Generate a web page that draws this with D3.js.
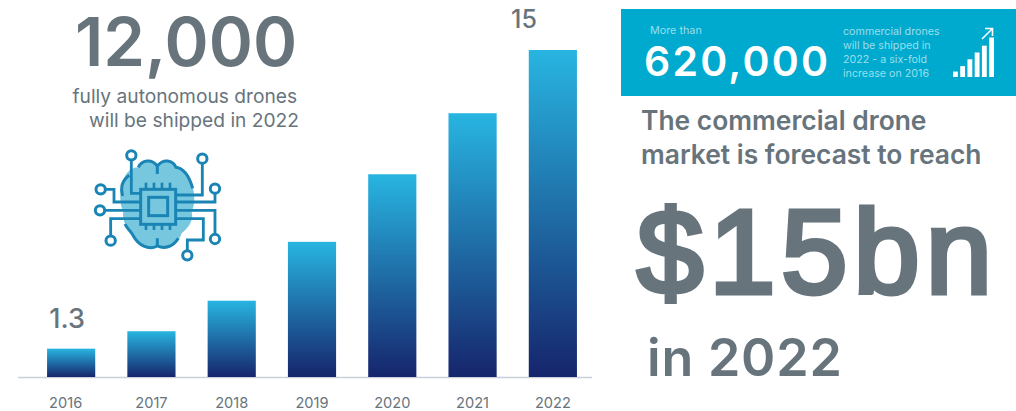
<!DOCTYPE html>
<html>
<head>
<meta charset="utf-8">
<script src="https://cdn.jsdelivr.net/npm/d3@7"></script>
<style>
html,body{margin:0;padding:0;background:#fff;overflow:hidden}
svg{display:block}
text{font-family:Inter,"Noto Sans",sans-serif}
</style>
</head>
<body>
<svg id="chart" width="1016" height="411"></svg>
<script>
// Commercial drone market forecast, $bn per year
const years = ["2016","2017","2018","2019","2020","2021","2022"];
const values = [1.3,2.1,3.5,6.2,9.3,12.1,15];
const valueLabels = {"2016":"1.3","2022":"15"};
const bannerBars = [2,4,6.5,9,11.5,14.5];
const bannerNote = ["commercial drones","will be shipped in","2022 - a six-fold","increase on 2016"];

const grey = "#67747c";
const svg = d3.select("#chart");

const grad = svg.append("defs").append("linearGradient")
  .attr("id","barFill").attr("x1",0).attr("y1",0).attr("x2",0).attr("y2",1);
grad.append("stop").attr("offset","0%").attr("stop-color","#28b5e1");
grad.append("stop").attr("offset","100%").attr("stop-color","#16256c");

// Bar chart
const x = d3.scaleBand().domain(years).range([31,593]).paddingInner(0.4).paddingOuter(0.2);
const y = d3.scaleLinear().domain([0,15]).range([377,50]);

svg.append("line").attr("x1",18).attr("x2",592).attr("y1",377.5).attr("y2",377.5)
  .attr("stroke","#c9d0da").attr("stroke-width",1.5);

svg.selectAll("rect.bar").data(years).join("rect").attr("class","bar")
  .attr("x",d=>x(d)).attr("width",x.bandwidth())
  .attr("y",(d,i)=>y(values[i])).attr("height",(d,i)=>y(0)-y(values[i]))
  .attr("fill","url(#barFill)");

const axis = d3.axisBottom(x).tickSize(0).tickPadding(0);
const axisG = svg.append("g").attr("transform","translate(0,408)").call(axis);
axisG.select(".domain").remove();
axisG.selectAll("text").attr("fill",grey).attr("font-size",14.6).attr("font-family","Inter,sans-serif")
  .attr("dy",0).attr("y",0).attr("dx",d=>d==="2016"?-5.5:0);

svg.selectAll("text.val").data(years.filter(d=>valueLabels[d])).join("text").attr("class","val")
  .attr("x",d=>d==="2022"?524:67)
  .attr("y",d=>d==="2022"?28:328)
  .attr("text-anchor","middle").attr("fill",grey)
  .attr("font-size",d=>d==="2022"?25:27).attr("font-weight",500)
  .text(d=>valueLabels[d]);

// Headline above the smaller bars
function label(tx,ty,str,size,opts={}){
  return svg.append("text").attr("x",tx).attr("y",ty).text(str)
    .attr("font-size",size).attr("fill",opts.fill||grey)
    .attr("font-weight",opts.weight||400)
    .attr("text-anchor",opts.anchor||"start")
    .attr("letter-spacing",opts.spacing||null)
    .style("font-family",opts.family||null);
}
label(186,66,"12,000",67,{anchor:"middle",weight:600});
label(72.5,103,"fully autonomous drones",19.2,{weight:400});
label(299,126.5,"will be shipped in 2022",19.2,{anchor:"end"});

// Brain and circuit icon
const icon = svg.append("g").attr("transform","translate(70,130) scale(0.3333)");
const blue = "#1a84b5";
icon.append("path")
  .attr("d","M262,110 C245,85 215,90 205,112 C180,112 160,135 155,170 C148,195 150,225 160,245 C155,275 172,295 190,310 C200,340 225,362 262,348 C300,362 325,340 335,310 C352,295 372,275 365,245 C375,225 375,195 368,170 C362,135 340,112 318,112 C308,90 280,85 262,110 Z")
  .attr("fill","#77c8df");
icon.append("path")
  .attr("d","M262,132 L262,108 C245,85 215,90 205,112 M262,108 C280,85 308,90 318,112 C340,115 358,140 368,175 M158,198 C150,170 158,150 178,136 M165,282 C172,298 185,305 190,318 C205,345 235,362 262,348 L262,325 M262,348 C285,358 310,350 325,325")
  .attr("fill","none").attr("stroke",blue).attr("stroke-width",9);
const wires = [
  "M184,90 L184,190 L212,190","M397,100 L397,195 L315,195",
  "M105,178 L132,178 L132,216 L212,216","M435,190 L435,216 L315,216",
  "M105,241 L212,241","M435,315 L435,241 L315,241",
  "M122,320 L122,266 L212,266","M352,362 L352,330 L400,330 L400,266 L315,266"];
icon.selectAll("path.wire").data(wires).join("path").attr("class","wire")
  .attr("d",d=>d).attr("fill","none").attr("stroke",blue).attr("stroke-width",8.5);
icon.append("rect").attr("x",212).attr("y",178).attr("width",105).attr("height",105)
  .attr("fill","#77c8df").attr("stroke",blue).attr("stroke-width",9);
icon.append("rect").attr("x",236).attr("y",202).attr("width",57).attr("height",55)
  .attr("fill","#77c8df").attr("stroke",blue).attr("stroke-width",9);
[228,252,276,300].forEach(p=>{
  icon.append("line").attr("x1",p).attr("x2",p).attr("y1",158).attr("y2",178).attr("stroke",blue).attr("stroke-width",8);
  icon.append("line").attr("x1",p).attr("x2",p).attr("y1",283).attr("y2",300).attr("stroke",blue).attr("stroke-width",8);
});
[[184,76],[397,86],[92,178],[435,176],[90,241],[122,332],[435,327],[352,376]].forEach(c=>{
  icon.append("circle").attr("cx",c[0]).attr("cy",c[1]).attr("r",14)
    .attr("fill","#fff").attr("stroke",blue).attr("stroke-width",9);
});

// Shipments banner
svg.append("rect").attr("x",621).attr("y",9).attr("width",395).attr("height",87).attr("fill","#00a9ce");
label(650,33.5,"More than",10.8,{fill:"#9adfec"});
label(644,76,"620,000",41,{fill:"#fff",weight:600,spacing:2.2});
svg.selectAll("text.note").data(bannerNote).join("text").attr("class","note")
  .attr("x",843).attr("y",(d,i)=>35+i*14).attr("font-size",10.7)
  .attr("fill","#9adfec").text(d=>d);

const bx = d3.scaleBand().domain(d3.range(bannerBars.length)).range([953,994]).paddingInner(0.33);
const by = d3.scaleLinear().domain([0,14.5]).range([77,37.5]);
svg.selectAll("rect.mini").data(bannerBars).join("rect").attr("class","mini")
  .attr("x",(d,i)=>bx(i)).attr("width",bx.bandwidth())
  .attr("y",d=>by(d)).attr("height",d=>77-by(d)).attr("fill","#fff");
svg.append("path").attr("d","M982,39 L992,29 M985,28.5 L992.5,28.5 L992.5,36")
  .attr("fill","none").attr("stroke","#fff").attr("stroke-width",1.6);

// Market forecast statement
label(641,130,"The commercial drone",26.4,{weight:600});
label(641,164,"market is forecast to reach",26.4,{weight:600});
label(637,293,"$15bn",119,{weight:400,spacing:6,family:"'Liberation Sans',Arial,sans-serif"})
  .attr("stroke",grey).attr("stroke-width",5).attr("stroke-linejoin","miter");
label(647,376,"in 2022",52,{weight:600,spacing:0.8});
</script>
</body>
</html>
